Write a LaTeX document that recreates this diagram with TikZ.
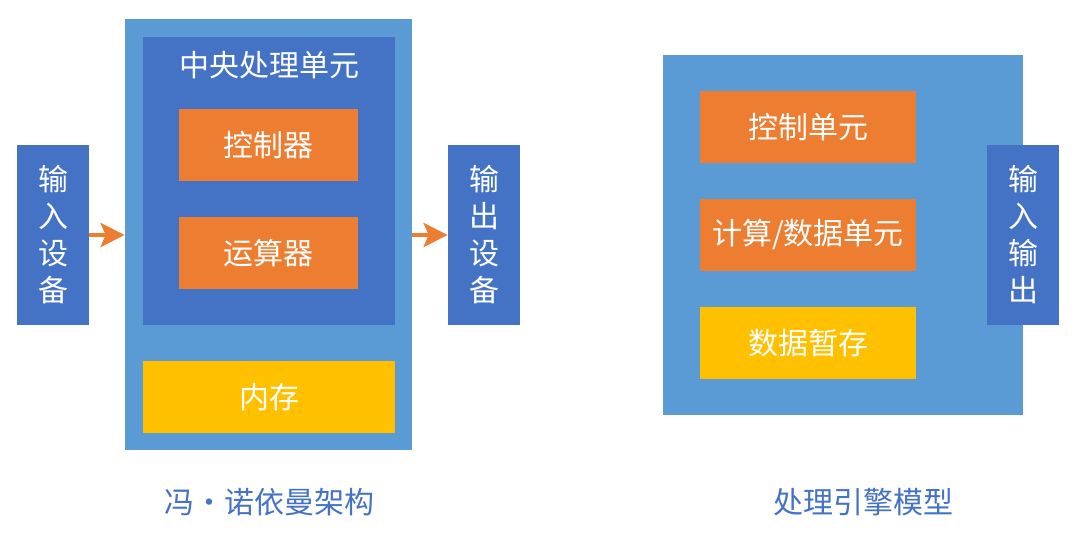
\documentclass[tikz,border=0pt]{standalone}
\usepackage{fontspec}
\newfontfamily\cjk{Noto Sans CJK SC}
\usetikzlibrary{positioning,arrows.meta}
\definecolor{ltblue}{HTML}{5B9BD5}
\definecolor{dkblue}{HTML}{4472C4}
\definecolor{orng}{HTML}{ED7D31}
\definecolor{ylw}{HTML}{FFC000}
\tikzset{
  box/.style={rectangle, fill=#1, inner sep=0pt, text=white, align=center,
    font=\cjk\fontsize{15}{18.5}\selectfont},
  caption/.style={text=dkblue, font=\cjk\fontsize{15}{18}\selectfont},
  flow/.style={orng, line width=2pt, -{Stealth[length=12pt,width=12pt,inset=2.5pt]}}
}

\begin{document}
\begin{tikzpicture}[x=0.5pt,y=-0.5pt]
        \useasboundingbox (0,0) rectangle (1080,540);
        % von Neumann
        \node[box=ltblue, minimum width=143.5pt, minimum height=215.5pt] (vn) at (268.5,234.5) {};
        \node[box=dkblue, minimum width=126pt, minimum height=144pt] (cpu) at (269,181) {};
        \node[box=dkblue] (cputitle) at (269,65) {中央处理单元};
        \node[box=orng, minimum width=89.5pt, minimum height=36pt] (ctrl) at (268.5,145) {控制器};
        \node[box=orng, minimum width=89.5pt, minimum height=36pt] (alu) at (268.5,253) {运算器};
        \node[box=ylw, minimum width=126pt, minimum height=36pt] (mem) at (269,397) {内存};
        \node[box=dkblue, minimum width=36pt, minimum height=90pt] (in) at (53,235) {输\\入\\设\\备};
        \node[box=dkblue, minimum width=36pt, minimum height=90pt] (out) at (484,235) {输\\出\\设\\备};
        \draw[flow] (in.east) -- (in.east -| vn.west);
        \draw[flow] (out.west -| vn.east) -- (out.west);
        \node[caption] (vncap) at (269,502) {冯・诺依曼架构};

        % engine
        \begin{scope}[xshift=270pt]
            \node[box=ltblue, minimum width=180pt, minimum height=180pt] (pe) at (303,235) {};
            \node[box=orng, minimum width=108pt, minimum height=36pt] (cu) at (268,127) {控制单元};
            \node[box=orng, minimum width=108pt, minimum height=36pt] (du) at (268,235) {计算/数据单元};
            \node[box=ylw, minimum width=108pt, minimum height=36pt] (buf) at (268,343) {数据暂存};
            \node[box=dkblue, minimum width=36pt, minimum height=90pt] (io) at (483,235) {输\\入\\输\\出};
            \node[caption] (pecap) at (323,502) {处理引擎模型};
        \end{scope}
    \end{tikzpicture}
\end{document}
